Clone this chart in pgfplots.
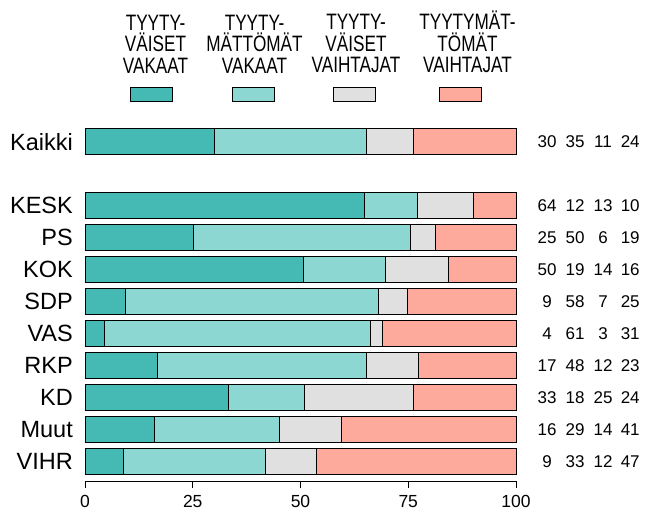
\documentclass[border=0pt]{standalone}
\usepackage{pgfplots}
\pgfplotsset{compat=1.18}
\usepackage{fontspec}
\setmainfont{Liberation Sans}
\newfontfamily\narrowfont[FakeStretch=0.77]{Liberation Sans}

\definecolor{tvak}{HTML}{45B9B4}
\definecolor{tmvak}{HTML}{8DD7D2}
\definecolor{tvaih}{HTML}{E0E0E0}
\definecolor{tmvaih}{HTML}{FDAA9D}

% right-hand columns of rounded shares, each number centred in its column
\newcommand\row[5]{%
  \node[num] at (axis cs:107.2,#1) {#2};
  \node[num] at (axis cs:113.7,#1) {#3};
  \node[num] at (axis cs:120.2,#1) {#4};
  \node[num] at (axis cs:126.5,#1) {#5};}

\begin{document}
\begin{tikzpicture}[x=1pt,y=1pt,
  num/.style={anchor=center, inner sep=0pt, font=\fontsize{17}{20}\selectfont},
  legtext/.style={anchor=south, inner sep=0pt, align=center,
    font=\narrowfont\fontsize{22.3}{21.5}\selectfont}]
\useasboundingbox (0,0) rectangle (646,512);
\begin{axis}[
  at={(85pt,31pt)}, anchor=south west,
  scale only axis, width=431pt, height=353.3pt,
  xbar stacked, bar width=0.81,
  xmin=0, xmax=100, ymin=-0.6, ymax=10.44,
  axis x line*=bottom, axis y line*=left,
  x axis line style={-, line width=0.7pt},
  y axis line style={draw=none},
  ytick={0,1,2,3,4,5,6,7,8,10},
  yticklabels={VIHR,Muut,KD,RKP,VAS,SDP,KOK,PS,KESK,Kaikki},
  major y tick style={draw=none},
  y tick label style={font=\fontsize{23.5}{28}\selectfont, inner sep=0pt, xshift=-5pt},
  xtick={0,25,50,75,100},
  tick align=outside, major tick length=7pt,
  major x tick style={line width=0.7pt, black},
  x tick label style={font=\fontsize{17.5}{21}\selectfont, yshift=-4pt},
  /pgf/number format/assume math mode=true,
  clip=false,
  every axis plot/.append style={draw=black, line width=0.7pt},
]
\addplot[fill=tvak] coordinates {(8.8,0) (16.0,1) (33.2,2) (16.9,3) (4.4,4)
  (9.3,5) (50.6,6) (25.1,7) (64.7,8) (29.9,10)};
\addplot[fill=tmvak] coordinates {(33.0,0) (29.0,1) (17.8,2) (48.3,3) (61.7,4)
  (58.7,5) (19.2,6) (50.3,7) (12.3,8) (35.3,10)};
\addplot[fill=tvaih] coordinates {(11.8,0) (14.4,1) (25.1,2) (12.1,3) (2.8,4)
  (6.9,5) (14.4,6) (5.8,7) (13.0,8) (10.9,10)};
\addplot[fill=tmvaih] coordinates {(46.4,0) (40.6,1) (23.9,2) (22.7,3) (31.1,4)
  (25.1,5) (15.8,6) (18.8,7) (10.0,8) (23.9,10)};

\row{10}{30}{35}{11}{24}
\row{8}{64}{12}{13}{10}
\row{7}{25}{50}{6}{19}
\row{6}{50}{19}{14}{16}
\row{5}{9}{58}{7}{25}
\row{4}{4}{61}{3}{31}
\row{3}{17}{48}{12}{23}
\row{2}{33}{18}{25}{24}
\row{1}{16}{29}{14}{41}
\row{0}{9}{33}{12}{47}
\end{axis}

% legend
\node[legtext] at (155.5,438.7) {TYYTY-\\VÄISET\\VAKAAT};
\node[legtext] at (254.5,438.7) {TYYTY-\\MÄTTÖMÄT\\VAKAAT};
\node[legtext] at (356,438.7) {TYYTY-\\VÄISET\\VAIHTAJAT};
\node[legtext] at (467.5,438.7) {TYYTYMÄT-\\TÖMÄT\\VAIHTAJAT};
\draw[fill=tvak, line width=0.7pt] (130.5,410.3) rectangle (172.5,425);
\draw[fill=tmvak, line width=0.7pt] (232,410.3) rectangle (274,425);
\draw[fill=tvaih, line width=0.7pt] (333.5,410.3) rectangle (375.5,425);
\draw[fill=tmvaih, line width=0.7pt] (439,410.3) rectangle (481,425);
\end{tikzpicture}
\end{document}
